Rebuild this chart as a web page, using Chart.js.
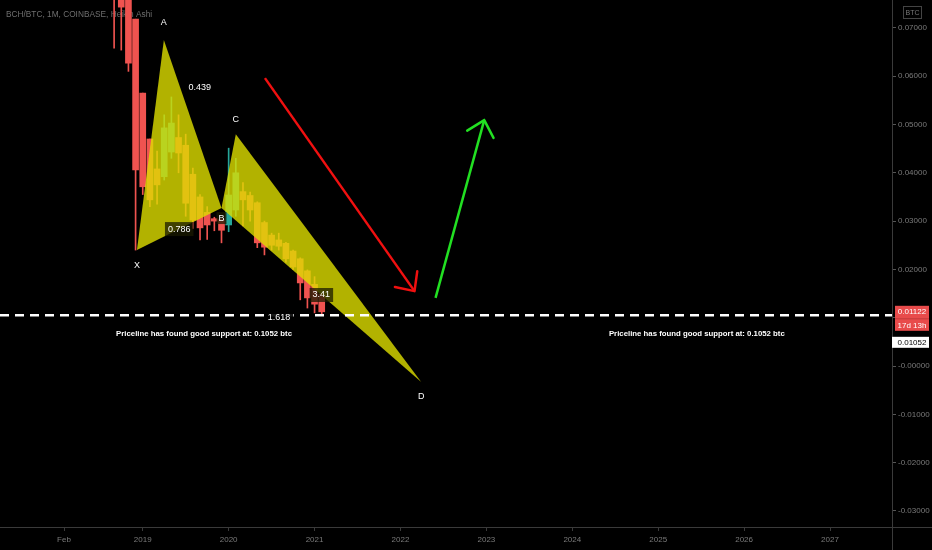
<!DOCTYPE html>
<html>
<head>
<meta charset="utf-8">
<style>
  html,body{margin:0;padding:0;background:#000;}
  #wrap{width:932px;height:550px;}
</style>
<script src="https://cdn.jsdelivr.net/npm/chart.js@4.4.0/dist/chart.umd.min.js"></script>
</head>
<body>
<div id="wrap"><canvas id="chart" width="932" height="550"></canvas></div>
<script>
// months counted from Jan 2018 = 0 (monthly Heikin Ashi candles, BCH/BTC)
const months = [8,9,10,11,12,13,14,15,16,17,18,19,20,21,22,23,24,25,26,27,28,29,30,31,32,33,34,35,36,37];
const opens  = [0.0880,0.0850,0.0797,0.0718,0.0565,0.0470,0.0408,0.0392,0.0443,0.0473,0.0457,0.0397,0.0350,0.0318,0.0305,0.0303,0.0292,0.0323,0.0361,0.0353,0.0338,0.0297,0.0271,0.0261,0.0254,0.0238,0.0222,0.0197,0.0169,0.0149];
const highs  = [0.0900,0.0870,0.0800,0.0718,0.0565,0.0470,0.0445,0.0520,0.0557,0.0520,0.0480,0.0410,0.0355,0.0330,0.0308,0.0305,0.0451,0.0430,0.0380,0.0360,0.0340,0.0300,0.0275,0.0275,0.0256,0.0240,0.0224,0.0199,0.0185,0.0150];
const lows   = [0.0658,0.0654,0.0610,0.0240,0.0355,0.0330,0.0335,0.0385,0.0430,0.0400,0.0310,0.0285,0.0261,0.0262,0.0280,0.0255,0.0278,0.0310,0.0290,0.0300,0.0245,0.0230,0.0240,0.0240,0.0215,0.0200,0.0137,0.0120,0.0110,0.0105];
const closes = [0.0820,0.0743,0.0627,0.0406,0.0371,0.0344,0.0375,0.0493,0.0503,0.0441,0.0337,0.0302,0.0286,0.0292,0.0300,0.0281,0.0354,0.0400,0.0344,0.0323,0.0255,0.0246,0.0250,0.0248,0.0222,0.0205,0.0172,0.0141,0.0128,0.01122];

// x axis ticks (months) and labels
const xTickMonths = [1,12,24,36,48,60,72,84,96,108];
const xTickLabels = ['Feb','2019','2020','2021','2022','2023','2024','2025','2026','2027'];
// y axis ticks
const yTickValues = [-0.03,-0.02,-0.01,0,0.01,0.02,0.03,0.04,0.05,0.06,0.07];
const yTickLabels = ['-0.03000','-0.02000','-0.01000','-0.00000','0.01000','0.02000','0.03000','0.04000','0.05000','0.06000','0.07000'];

// XABCD pattern
const patternNames  = ['X','A','B','C','D'];
const patternMonths = [11.19,14.95,23.0,25.0,50.9];
const patternValues = [0.0240,0.0675,0.0327,0.0480,-0.0033];
const ratioLabels = ['0.786','0.439','3.41','1.618'];
const ratioPairs  = [[0,2],[1,3],[2,4],[0,4]];

// drawings
const redArrowMonths = [29.07,49.96];
const redArrowValues = [0.0596,0.0155];
const greenArrowMonths = [52.9,59.7];
const greenArrowValues = [0.0141,0.0509];

const supportLevel = 0.01052;
const lastPrice = 0.01122;
const countdown = '17d 13h';
const noteText = 'Priceline has found good support at: 0.1052 btc';
const noteMonths = [20.56,89.4];
const noteValue = 0.0066;

const X_MIN = -7.94, X_MAX = 116.66;
const Y_MIN = -0.033333, Y_MAX = 0.075776;

const RED = '#ef5350', GREEN = '#26a69a';
const OVERLAY = 'rgba(222,222,0,0.8)';
const FONT = 'Liberation Sans';

const candleColor = months.map((m,i)=> closes[i] >= opens[i] ? GREEN : RED);

function pts(ms, vs){ return ms.map((m,i)=>({x:m, y:vs[i]})); }
function tri(a,b,c){
  const idx=[a,b,c,a];
  return idx.map(i=>({x:patternMonths[i], y:patternValues[i]}));
}
// no extra room for the edge tick labels
function noPad(s){ s.paddingTop = 0; s.paddingBottom = 0; s.paddingLeft = 0; s.paddingRight = 0; }

const helpers = {
  id:'helpers',
  beforeDatasetsDraw(chart){
    const {ctx} = chart;
    ctx.save();
    ctx.fillStyle = '#6e6e6e';
    ctx.font = '8.3px "'+FONT+'"';
    ctx.textBaseline = 'middle';
    ctx.fillText('BCH/BTC, 1M, COINBASE, Heikin Ashi', 6, 15);
    ctx.restore();
  },
  afterDatasetsDraw(chart){
    const {ctx} = chart;
    const xs = chart.scales.x, ys = chart.scales.y;
    // arrow heads
    chart.data.datasets.forEach((ds,i)=>{
      if(!ds.arrow) return;
      const p = chart.getDatasetMeta(i).data;
      const a = p[0], b = p[1];
      const ang = Math.atan2(b.y-a.y, b.x-a.x);
      ctx.save();
      ctx.strokeStyle = ds.borderColor; ctx.lineWidth = ds.borderWidth; ctx.lineCap = 'round';
      ctx.beginPath();
      [Math.PI-0.75, Math.PI+0.75].forEach(d=>{
        ctx.moveTo(b.x,b.y);
        ctx.lineTo(b.x+20*Math.cos(ang+d), b.y+20*Math.sin(ang+d));
      });
      ctx.stroke();
      ctx.restore();
    });

    ctx.save();
    ctx.textAlign = 'center';
    ctx.textBaseline = 'middle';
    ctx.font = '9px "'+FONT+'"';
    const px = i => xs.getPixelForValue(patternMonths[i]);
    const py = i => ys.getPixelForValue(patternValues[i]);
    const offs = [15,-17,10,-15,15];
    patternNames.forEach((n,i)=>{
      const x = px(i), y = py(i)+offs[i];
      if(n==='B'){
        ctx.fillStyle = 'rgba(25,25,0,0.75)';
        ctx.fillRect(x-5, y-6, 10, 12);
      }
      ctx.fillStyle = '#fff';
      ctx.fillText(n, x, y);
    });
    ratioLabels.forEach((t,k)=>{
      const [a,b] = ratioPairs[k];
      const x = (px(a)+px(b))/2, y = (py(a)+py(b))/2;
      const w = ctx.measureText(t).width + 6;
      if(t!=='0.439'){
        ctx.fillStyle = t==='1.618' ? 'rgba(0,0,0,0.9)' : 'rgba(25,25,0,0.75)';
        ctx.fillRect(x-w/2, y-7, w, 14);
      }
      ctx.fillStyle = '#fff';
      ctx.fillText(t, x, y + (t==='1.618'?2:0));
    });
    // notes
    ctx.font = 'bold 7.8px "'+FONT+'"';
    noteMonths.forEach(m=>{
      ctx.fillText(noteText, xs.getPixelForValue(m), ys.getPixelForValue(noteValue));
    });
    ctx.restore();
  },
  afterDraw(chart){
    const {ctx, chartArea} = chart;
    const ys = chart.scales.y;
    const ax = chartArea.right;
    ctx.save();
    // axis lines extended to the canvas edges
    ctx.strokeStyle = '#3a3a3a'; ctx.lineWidth = 1;
    ctx.beginPath();
    ctx.moveTo(ax+0.5, 0); ctx.lineTo(ax+0.5, 550);
    ctx.moveTo(0, chartArea.bottom+0.5); ctx.lineTo(932, chartArea.bottom+0.5);
    ctx.stroke();
    // price tags
    ctx.font = '8px "'+FONT+'"';
    ctx.textBaseline = 'middle';
    const ty = ys.getPixelForValue(lastPrice);
    ctx.fillStyle = '#e84b4b';
    ctx.fillRect(ax+3, ty-6, 34, 25);
    ctx.fillStyle = '#c23a3a';
    ctx.fillRect(ax+3, ty+6.5, 34, 1);
    ctx.fillStyle = '#fff';
    ctx.textAlign = 'center';
    ctx.fillText(lastPrice.toFixed(5), ax+20, ty);
    ctx.fillText(countdown, ax+20, ty+13.5);
    ctx.fillStyle = '#fff';
    ctx.fillRect(ax, ty+25, 37, 11);
    ctx.fillStyle = '#000';
    ctx.fillText(supportLevel.toFixed(5), ax+20, ty+31);
    // currency box
    ctx.strokeStyle = '#444';
    ctx.strokeRect(903.5, 6.5, 18, 12);
    ctx.fillStyle = '#777';
    ctx.font = '7px "'+FONT+'"';
    ctx.fillText('BTC', 912.5, 13);
    ctx.restore();
  }
};

new Chart(document.getElementById('chart'), {
  type: 'bar',
  data: {
    datasets: [
      { label:'wicks', data: months.map((m,i)=>({x:m, y:[lows[i], highs[i]]})),
        backgroundColor: candleColor, barThickness: 1, grouped:false, order:5 },
      { label:'bodies', data: months.map((m,i)=>({x:m, y:[opens[i], closes[i]]})),
        backgroundColor: candleColor, barThickness: 6, minBarLength: 1.5, grouped:false, order:4 },
      { type:'line', label:'XAB', data: tri(0,1,2), fill:'shape', backgroundColor: OVERLAY,
        borderWidth:0, pointRadius:0, order:3 },
      { type:'line', label:'BCD', data: tri(2,3,4), fill:'shape', backgroundColor: OVERLAY,
        borderWidth:0, pointRadius:0, order:3 },
      { type:'line', label:'support', data: [{x:X_MIN,y:supportLevel},{x:X_MAX,y:supportLevel}],
        borderColor:'#ffffff', borderWidth:2.5, borderDash:[9,6], pointRadius:0, fill:false, order:2 },
      { type:'line', label:'down', arrow:true, data: pts(redArrowMonths, redArrowValues),
        borderColor:'#f01010', borderWidth:2.5, pointRadius:0, fill:false, order:1 },
      { type:'line', label:'up', arrow:true, data: pts(greenArrowMonths, greenArrowValues),
        borderColor:'#22e022', borderWidth:2.5, pointRadius:0, fill:false, order:1 }
    ]
  },
  options: {
    responsive:false,
    devicePixelRatio:1,
    animation:false,
    layout:{padding:0},
    plugins:{ legend:{display:false}, tooltip:{enabled:false} },
    scales:{
      x:{
        type:'linear', min:X_MIN, max:X_MAX, offset:false,
        grid:{display:true, drawOnChartArea:false, tickLength:4, color:'#3a3a3a', offset:false},
        border:{display:false},
        afterBuildTicks: s => { s.ticks = xTickMonths.map(v=>({value:v})); },
        afterFit: s => { s.height = 23; noPad(s); },
        ticks:{ callback:(v,i)=>xTickLabels[i], color:'#7a7a7a', font:{family:FONT, size:8},
                maxRotation:0, autoSkip:false, padding:4 }
      },
      y:{
        position:'right', min:Y_MIN, max:Y_MAX,
        grid:{display:true, drawOnChartArea:false, tickLength:4, color:'#555'},
        border:{display:false},
        afterBuildTicks: s => { s.ticks = yTickValues.map(v=>({value:v})); },
        afterFit: s => { s.width = 40; noPad(s); },
        ticks:{ callback:(v,i)=>yTickLabels[i], color:'#7a7a7a', font:{family:FONT, size:8}, padding:2 }
      }
    }
  },
  plugins:[helpers]
});
</script>
</body>
</html>
